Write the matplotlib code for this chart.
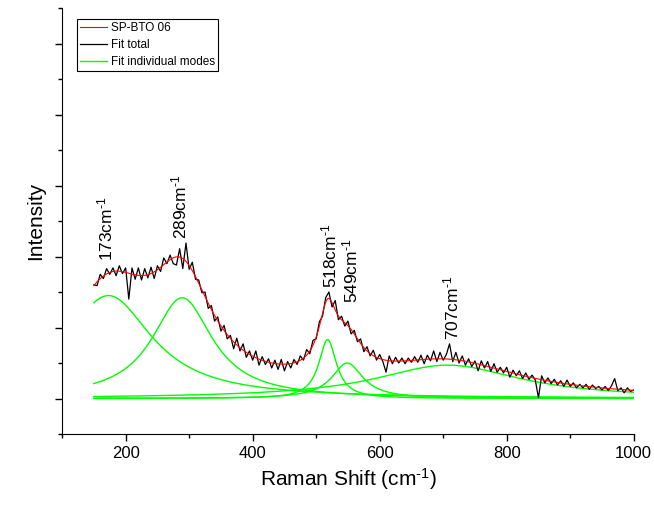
import numpy as np
import matplotlib
matplotlib.use("Agg")
import matplotlib.pyplot as plt
from matplotlib.ticker import MultipleLocator, NullFormatter

plt.rcParams['font.family'] = ['Liberation Sans', 'DejaVu Sans']
plt.rcParams['mathtext.fontset'] = 'custom'
plt.rcParams['mathtext.rm'] = 'Liberation Sans'
plt.rcParams['mathtext.default'] = 'regular'

shift = np.arange(150, 1001, 5)
intensity = [
    1.60, 1.59, 1.75, 1.69, 1.83, 1.75, 1.84, 1.73, 1.87, 1.76,
    1.84, 1.40, 1.84, 1.68, 1.84, 1.67, 1.83, 1.70, 1.85, 1.69,
    1.87, 1.79, 1.98, 1.90, 2.02, 1.90, 1.88, 2.11, 1.83, 2.19,
    1.82, 1.92, 1.68, 1.67, 1.49, 1.50, 1.27, 1.31, 1.09, 1.15,
    0.95, 1.03, 0.84, 0.89, 0.70, 0.85, 0.67, 0.77, 0.58, 0.67,
    0.54, 0.67, 0.47, 0.59, 0.48, 0.56, 0.43, 0.54, 0.41, 0.55,
    0.39, 0.52, 0.43, 0.55, 0.48, 0.60, 0.54, 0.69, 0.63, 0.82,
    0.84, 1.08, 1.16, 1.42, 1.50, 1.29, 1.38, 1.11, 1.16, 1.02,
    1.09, 0.91, 0.96, 0.80, 0.84, 0.66, 0.73, 0.60, 0.68, 0.54,
    0.62, 0.52, 0.37, 0.60, 0.49, 0.58, 0.50, 0.57, 0.49, 0.57,
    0.51, 0.59, 0.51, 0.61, 0.49, 0.61, 0.53, 0.67, 0.52, 0.65,
    0.54, 0.62, 0.77, 0.52, 0.65, 0.50, 0.60, 0.47, 0.56, 0.45,
    0.53, 0.39, 0.53, 0.43, 0.52, 0.38, 0.49, 0.37, 0.44, 0.36,
    0.44, 0.30, 0.40, 0.32, 0.39, 0.28, 0.36, 0.27, 0.33, 0.26,
    0.01, 0.32, 0.22, 0.29, 0.21, 0.27, 0.19, 0.25, 0.17, 0.26,
    0.17, 0.22, 0.15, 0.20, 0.15, 0.20, 0.13, 0.19, 0.14, 0.17,
    0.12, 0.17, 0.11, 0.18, 0.28, 0.11, 0.15, 0.08, 0.15, 0.10,
    0.12,
]

# fitted Lorentzian modes: centre, height, half width
centres = [173, 289, 518, 549, 707]
heights = [1.45, 1.42, 0.83, 0.50, 0.47]
hwhm = [84, 58, 17, 30, 140]

# peak labels
label_x = [168, 284, 521, 554, 713]
label_y = [1.94, 2.25, 1.56, 1.35, 0.82]


def lorentz(x, c, a, w):
    return a / (1 + ((x - c) / w) ** 2)


xf = np.linspace(150, 1000, 851)
modes = [lorentz(xf, c, a, w) for c, a, w in zip(centres, heights, hwhm)]
total = np.sum(modes, axis=0)

fig = plt.figure(figsize=(6.54, 5.07), dpi=100)
ax = fig.add_axes([0.095, 0.144, 0.874, 0.840])

for i, m in enumerate(modes):
    ax.plot(xf, m, color='#00ff00', lw=1.0,
            label='Fit individual modes' if i == 0 else None)
ax.plot(shift, intensity, color='black', lw=0.9, label='Fit total')
ax.plot(xf, total, color='#ff0000', lw=0.8, label='SP-BTO 06')

for x, y, c in zip(label_x, label_y, centres):
    ax.text(x, y, r'%dcm$^{\text{-}1}$' % c, rotation=90, ha='center',
            va='bottom', fontsize=12.5)

ax.set_xlim(100, 1000)
ax.set_ylim(-0.5, 5.5)
ax.xaxis.set_major_locator(MultipleLocator(200))
ax.xaxis.set_minor_locator(MultipleLocator(100))
ax.yaxis.set_major_locator(MultipleLocator(1))
ax.yaxis.set_minor_locator(MultipleLocator(0.5))
ax.yaxis.set_major_formatter(NullFormatter())
ax.tick_params(which='major', length=5, width=1, labelsize=12)
ax.tick_params(which='minor', length=3, width=1)
ax.spines['top'].set_visible(False)
ax.spines['right'].set_visible(False)

ax.set_xlabel(r'Raman Shift (cm$^{\text{-}1}$)', fontsize=15)
ax.set_ylabel('Intensity', fontsize=15)

h, l = ax.get_legend_handles_labels()
order = [l.index('SP-BTO 06'), l.index('Fit total'), l.index('Fit individual modes')]
leg = ax.legend([h[i] for i in order], [l[i] for i in order], loc='upper left',
                bbox_to_anchor=(0.026, 0.974), fontsize=8.5, fancybox=False,
                edgecolor='black', framealpha=1, borderpad=0.25,
                labelspacing=0.42, handlelength=2.3, handletextpad=0.3,
                borderaxespad=0)
leg.get_frame().set_linewidth(0.8)

fig.savefig('out.png', dpi=100)
